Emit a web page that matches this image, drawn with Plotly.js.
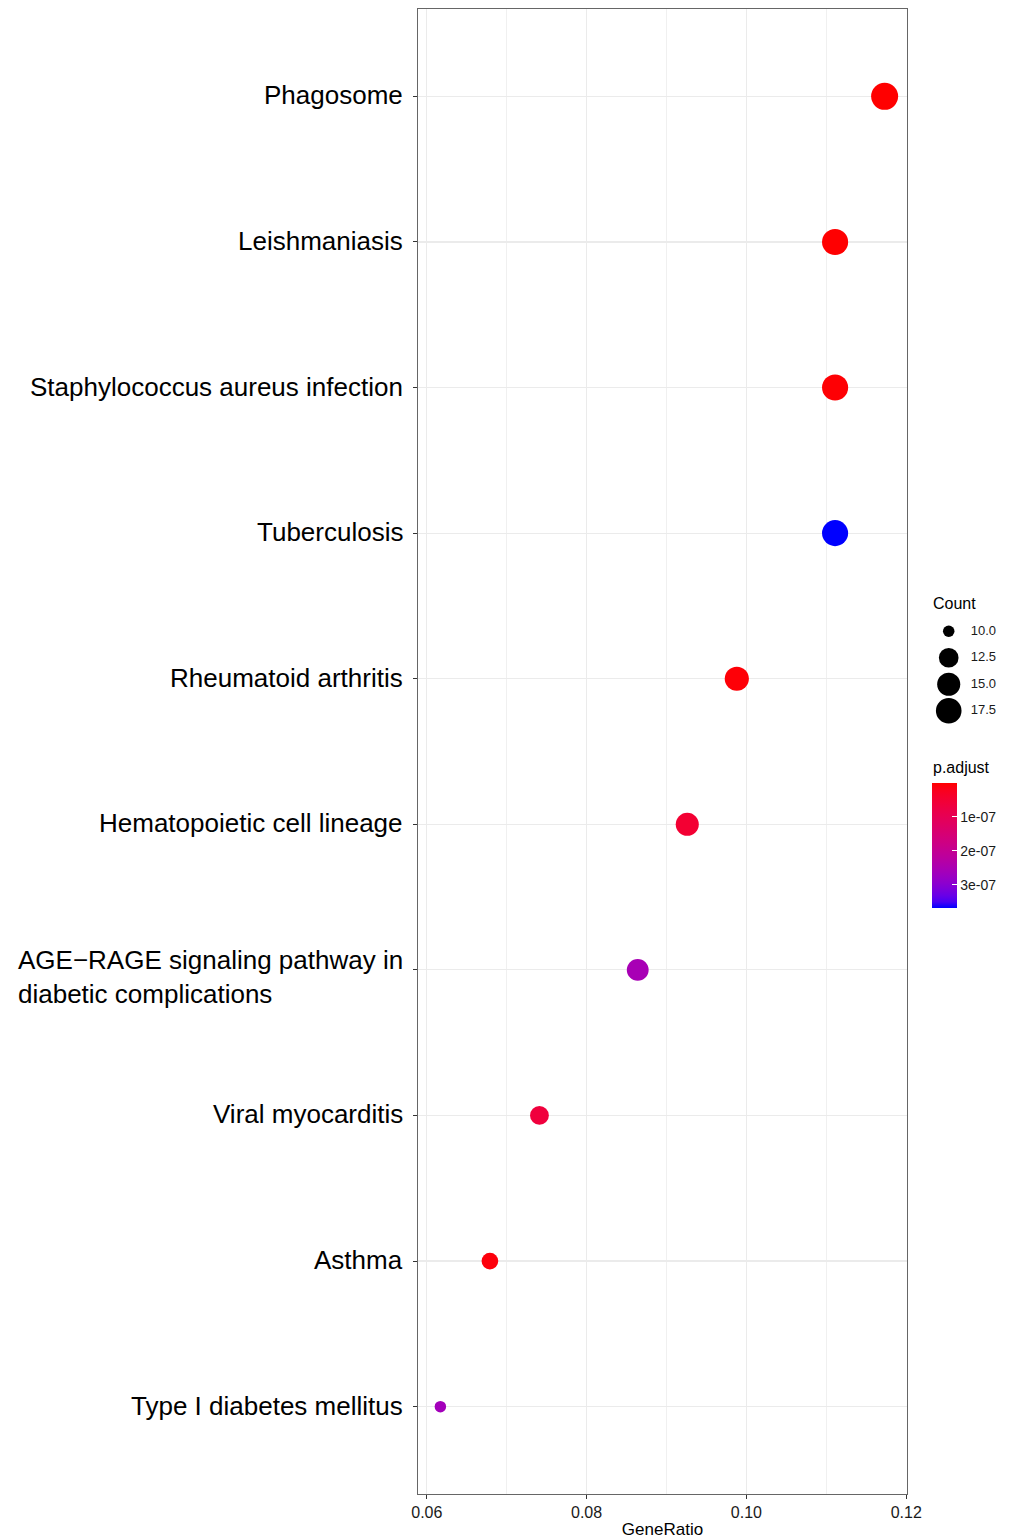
<!DOCTYPE html>
<html>
<head>
<meta charset="utf-8">
<script src="https://cdn.plot.ly/plotly-3.0.1.min.js"></script>
<style>
html,body{margin:0;padding:0;background:#fff;}
#chart{width:1016px;height:1540px;}
</style>
</head>
<body>
<div id="chart"></div>
<script>
// ---- data ----
var pathways = [
  "Phagosome",
  "Leishmaniasis",
  "Staphylococcus aureus infection",
  "Tuberculosis",
  "Rheumatoid arthritis",
  "Hematopoietic cell lineage",
  "AGE\u2212RAGE signaling pathway in<br>diabetic complications",
  "Viral myocarditis",
  "Asthma",
  "Type I diabetes mellitus"
];
var geneRatio = [0.1173, 0.1111, 0.1111, 0.1111, 0.0988, 0.0926, 0.0864, 0.0741, 0.0679, 0.0617];
var counts    = [19, 18, 18, 18, 16, 15, 14, 12, 11, 10];
var pAdjust   = [1.2e-9, 2.0e-9, 4.0e-9, 3.68e-7, 6.0e-9, 5.0e-8, 2.55e-7, 6.5e-8, 1.0e-8, 2.62e-7];

var sizeLegendValues = [10.0, 12.5, 15.0, 17.5];
var sizeLegendLabels = ["10.0", "12.5", "15.0", "17.5"];
var colorTickValues = [1e-7, 2e-7, 3e-7];
var colorTickLabels = ["1e-07", "2e-07", "3e-07"];

// ---- styling helpers ----
var FONT = "Liberation Sans, Arial, Helvetica, sans-serif";

// area-style size scale (like ggplot scale_size)
var cMin = Math.min.apply(null, counts), cMax = Math.max.apply(null, counts);
var dMin = 11.5, dMax = 27;
function sizeOf(c){
  var t = (c - cMin) / (cMax - cMin);
  if (t < 0) t = 0;
  return dMin + (dMax - dMin) * Math.sqrt(t);
}

// red -> blue gradient interpolated in CIE Lab (like ggplot scale_color_gradient)
function srgbToLin(c){ c/=255; return c<=0.04045? c/12.92 : Math.pow((c+0.055)/1.055,2.4); }
function linToSrgb(c){ c = c<=0.0031308? 12.92*c : 1.055*Math.pow(c,1/2.4)-0.055; return Math.max(0,Math.min(255,Math.round(c*255))); }
function rgbToLab(r,g,b){
  r=srgbToLin(r); g=srgbToLin(g); b=srgbToLin(b);
  var X=(0.4124*r+0.3576*g+0.1805*b)/0.95047, Y=(0.2126*r+0.7152*g+0.0722*b), Z=(0.0193*r+0.1192*g+0.9505*b)/1.08883;
  function f(t){ return t>0.008856? Math.cbrt(t) : 7.787*t+16/116; }
  var fx=f(X), fy=f(Y), fz=f(Z);
  return [116*fy-16, 500*(fx-fy), 200*(fy-fz)];
}
function labToRgb(L,a,b){
  var fy=(L+16)/116, fx=fy+a/500, fz=fy-b/200;
  function fi(t){ return t>0.206893? t*t*t : (t-16/116)/7.787; }
  var X=0.95047*fi(fx), Y=fi(fy), Z=1.08883*fi(fz);
  var r= 3.2406*X-1.5372*Y-0.4986*Z, g=-0.9689*X+1.8758*Y+0.0415*Z, bb=0.0557*X-0.2040*Y+1.0570*Z;
  return "rgb("+linToSrgb(r)+","+linToSrgb(g)+","+linToSrgb(bb)+")";
}
var labLo = rgbToLab(255,0,0), labHi = rgbToLab(0,0,255);
var colorscale = [], colorscaleRev = [];
for (var i=0;i<=20;i++){
  var t=i/20;
  colorscale.push([t, labToRgb(labLo[0]+(labHi[0]-labLo[0])*t, labLo[1]+(labHi[1]-labLo[1])*t, labLo[2]+(labHi[2]-labLo[2])*t)]);
}
for (var j=20;j>=0;j--){ colorscaleRev.push([1 - colorscale[j][0], colorscale[j][1]]); }

var pMin = Math.min.apply(null, pAdjust), pMax = Math.max.apply(null, pAdjust);

// layout geometry
var W=1016, H=1540, mL=418, mR=10, mT=9, mB=46;
var plotW = W-mL-mR, plotH = H-mT-mB;
function px2x(px){ return (px-mL)/plotW; }
function px2y(py){ return (H-mB-py)/plotH; }

var mainTrace = {
  type: "scatter", mode: "markers",
  x: geneRatio, y: pathways,
  xaxis: "x", yaxis: "y",
  marker: {
    size: counts.map(sizeOf),
    color: pAdjust, cmin: pMin, cmax: pMax,
    colorscale: colorscale,
    line: {width: 0},
    opacity: 1,
    showscale: false
  },
  showlegend: false,
  hoverinfo: "x+y"
};

// reversed colour guide (small p.adjust at the top, as in the reference):
// an invisible copy of the points that only carries the colour bar
var colorGuideTrace = {
  type: "scatter", mode: "markers",
  x: geneRatio, y: pathways,
  xaxis: "x", yaxis: "y",
  marker: {
    size: 1, opacity: 0,
    color: pAdjust.map(function(v){ return -v; }),
    cmin: -pMax, cmax: -pMin,
    colorscale: colorscaleRev,
    showscale: true,
    colorbar: {
      x: px2x(932), xanchor: "left", xpad: 0,
      y: px2y(845.5), yanchor: "middle", ypad: 0,
      thickness: 25, thicknessmode: "pixels",
      len: 125, lenmode: "pixels",
      outlinewidth: 0,
      tickvals: colorTickValues.map(function(v){ return -v; }),
      ticktext: colorTickLabels,
      tickprefix: "\u00a0",
      ticks: "inside", ticklen: 5, tickcolor: "#ffffff", tickwidth: 1,
      tickfont: {family: FONT, size: 14, color: "#1a1a1a"},
      title: {text: ""}
    }
  },
  showlegend: false, hoverinfo: "skip"
};

var sizeLegendTrace = {
  type: "scatter", mode: "markers",
  x: sizeLegendValues.map(function(){ return 0; }),
  y: sizeLegendLabels,
  xaxis: "x2", yaxis: "y2",
  marker: {size: sizeLegendValues.map(sizeOf), color: "#000000", opacity: 1, line:{width:0}},
  showlegend: false, hoverinfo: "skip"
};
var sizeLegendText = {
  type: "scatter", mode: "text",
  x: sizeLegendValues.map(function(){ return 1; }),
  y: sizeLegendLabels,
  text: sizeLegendLabels,
  textposition: "middle right",
  textfont: {family: FONT, size: 13, color: "#1a1a1a"},
  xaxis: "x2", yaxis: "y2",
  showlegend: false, hoverinfo: "skip"
};

var annotations = [];
pathways.forEach(function(p){
  var multi = p.indexOf("<br>") >= 0;
  annotations.push({
    x: 0, xref: "paper", y: p, yref: "y",
    text: p, showarrow: false,
    xanchor: "right", yanchor: "middle", align: "left", xshift: -13, yshift: multi ? -7 : 1,
    font: {family: FONT, size: 26, color: "#000000"}
  });
});
annotations.push({x: px2x(931), xref:"paper", y: px2y(603), yref:"paper", text:"Count", showarrow:false,
  xanchor:"left", yanchor:"middle", font:{family:FONT, size:16, color:"#000"}});
annotations.push({x: px2x(931), xref:"paper", y: px2y(767), yref:"paper", text:"p.adjust", showarrow:false,
  xanchor:"left", yanchor:"middle", font:{family:FONT, size:16, color:"#000"}});

var layout = {
  width: W, height: H,
  margin: {l: mL, r: mR, t: mT, b: mB, pad: 0},
  paper_bgcolor: "#ffffff", plot_bgcolor: "#ffffff",
  font: {family: FONT},
  xaxis: {
    domain: [0, px2x(907)],
    range: [0.0589, 0.1201],
    tickvals: [0.06, 0.08, 0.10, 0.12],
    ticktext: ["0.06", "0.08", "0.10", "0.12"],
    ticks: "outside", ticklen: 4, tickcolor: "#333333", tickwidth: 1,
    tickfont: {family: FONT, size: 16, color: "#1a1a1a"},
    showgrid: true, gridcolor: "#EBEBEB", gridwidth: 1.2,
    minor: {tickvals: [0.07, 0.09, 0.11], showgrid: true, gridcolor: "#F0F0F0", gridwidth: 1, ticks: ""},
    zeroline: false,
    showline: true, mirror: true, linecolor: "#666666", linewidth: 1.2,
    title: {text: "GeneRatio", font: {family: FONT, size: 17, color: "#000"}, standoff: 2},
    fixedrange: true
  },
  yaxis: {
    type: "category",
    categoryorder: "array", categoryarray: pathways,
    range: [pathways.length - 0.4, -0.6],
    showticklabels: false,
    ticks: "outside", ticklen: 4, tickcolor: "#333333", tickwidth: 1,
    showgrid: true, gridcolor: "#EBEBEB", gridwidth: 1.2,
    zeroline: false,
    showline: true, mirror: true, linecolor: "#666666", linewidth: 1.2,
    fixedrange: true
  },
  xaxis2: {
    domain: [px2x(930), px2x(1010)],
    range: [-0.85, 2.6],
    anchor: "y2",
    visible: false, fixedrange: true
  },
  yaxis2: {
    domain: [px2y(724), px2y(618)],
    type: "category",
    categoryorder: "array", categoryarray: sizeLegendLabels,
    range: [3.5, -0.5],
    anchor: "x2",
    visible: false, fixedrange: true
  },
  annotations: annotations,
  showlegend: false
};

Plotly.newPlot("chart", [mainTrace, colorGuideTrace, sizeLegendTrace, sizeLegendText], layout, {displayModeBar: false, staticPlot: true});
</script>
</body>
</html>
